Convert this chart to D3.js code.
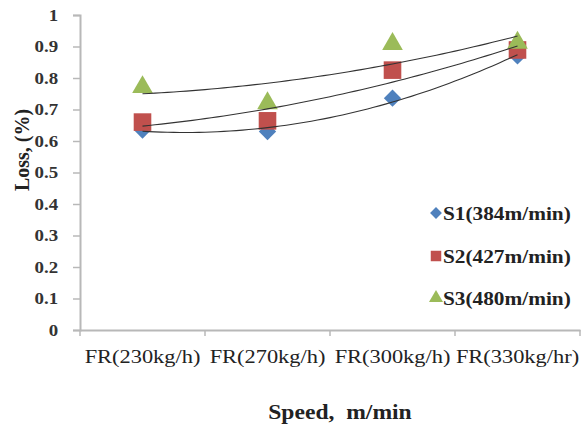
<!DOCTYPE html>
<html><head><meta charset="utf-8">
<script src="https://cdn.jsdelivr.net/npm/d3@7"></script>
<style>body{margin:0;background:#fff}svg{display:block}svg text{font-family:"Liberation Serif","Times New Roman",serif}</style>
</head><body>
<svg id="c" width="585" height="427"></svg>
<script>
const categories = ["FR(230kg/h)", "FR(270kg/h)", "FR(300kg/h)", "FR(330kg/hr)"];
const seriesNames = ["S1(384m/min)", "S2(427m/min)", "S3(480m/min)"];
const s1 = [0.635, 0.63, 0.736, 0.87];
const s2 = [0.66, 0.664, 0.825, 0.889];
const s3 = [0.771, 0.72, 0.908, 0.912];
const yTicks = [0, 0.1, 0.2, 0.3, 0.4, 0.5, 0.6, 0.7, 0.8, 0.9, 1];
const colors = ["#4F81BD", "#C0504D", "#9BBB59"];
const shapes = [d3.symbolSquare, d3.symbolSquare, d3.symbolTriangle];
const rotations = [45, 0, 0];
const allSeries = [s1, s2, s3];

const svg = d3.select("#c");
const font = '"Liberation Serif","Times New Roman",serif';
const SX = 1.18; // horizontal stretch of text as in the reference
const L = 80, R = 580, T = 15, B = 330;
const x = d3.scaleBand().domain(categories).range([L, R]);
const y = d3.scaleLinear().domain([0, 1]).range([B, T]);
const axisCol = "#b8b8b8";

// y axis
const ya = svg.append("g").attr("transform", `translate(${L},0)`)
  .call(d3.axisLeft(y).tickValues(yTicks).tickSize(7).tickPadding(11.5)
    .tickFormat(d => d === 0 || d === 1 ? d3.format("d")(d) : d3.format(".1f")(d)));
ya.attr("font-family", null).attr("font-size", null);
ya.select(".domain").attr("stroke", axisCol).attr("stroke-width", 2);
ya.selectAll(".tick line").attr("stroke", axisCol).attr("stroke-width", 1.5);
ya.selectAll("text").style("font-family", font).style("font-size", "16px").style("font-weight", "bold")
  .attr("fill", "#333").attr("transform", `scale(${SX},1)`);

// x axis
const xa = svg.append("g").attr("transform", `translate(0,${B})`)
  .call(d3.axisBottom(x).tickSize(0).tickPadding(20));
xa.attr("font-family", null).attr("font-size", null);
xa.select(".domain").attr("stroke", axisCol).attr("stroke-width", 2);
xa.selectAll("text").style("font-family", font).style("font-size", "19px").attr("fill", "#222")
  .attr("transform", `scale(${SX},1)`).attr("x", 0);
// category boundary ticks
const bounds = categories.map(c => x(c)).concat([R]);
svg.append("g").selectAll("line").data(bounds).join("line")
  .attr("x1", d => d).attr("x2", d => d).attr("y1", B).attr("y2", B + 6)
  .attr("stroke", axisCol).attr("stroke-width", 1.5);

// quadratic trendlines (least squares fit of each series)
function polyfit2(ys) {
  const xs = ys.map((_, i) => i + 1);
  let S = [0,0,0,0,0], Sy = [0,0,0];
  xs.forEach((xi, i) => { for (let k = 0; k < 5; k++) S[k] += Math.pow(xi, k); for (let k = 0; k < 3; k++) Sy[k] += ys[i] * Math.pow(xi, k); });
  const M = [[S[0],S[1],S[2],Sy[0]],[S[1],S[2],S[3],Sy[1]],[S[2],S[3],S[4],Sy[2]]];
  for (let i = 0; i < 3; i++) { for (let j = i+1; j < 3; j++) { const f = M[j][i]/M[i][i]; for (let k = i; k < 4; k++) M[j][k] -= f*M[i][k]; } }
  const c = [0,0,0];
  for (let i = 2; i >= 0; i--) { let s = M[i][3]; for (let k = i+1; k < 3; k++) s -= M[i][k]*c[k]; c[i] = s/M[i][i]; }
  return t => c[0] + c[1]*t + c[2]*t*t;
}
const bw = x.bandwidth();
const xc = i => x(categories[0]) + bw/2 + i * bw;
const line = d3.line().x(d => xc(d[0] - 1)).y(d => y(d[1]));

// markers
const sizes = [150, 310, 185];
allSeries.forEach((s, si) => {
  svg.append("g").selectAll("path").data(s).join("path")
    .attr("transform", (d, i) => `translate(${x(categories[i]) + bw/2},${y(d)}) rotate(${rotations[si]})`)
    .attr("d", d3.symbol().type(shapes[si]).size(sizes[si]))
    .attr("fill", colors[si]);
});
// trendlines on top
allSeries.forEach(s => {
  const f = polyfit2(s);
  const pts = d3.range(1, 4.001, 0.05).map(t => [t, f(t)]);
  svg.append("path").attr("d", line(pts)).attr("fill", "none").attr("stroke", "#333").attr("stroke-width", 1.1);
});

// legend
const legY = [213, 256, 298];
seriesNames.forEach((n, i) => {
  svg.append("path").attr("transform", `translate(436,${legY[i]}) rotate(${rotations[i]})`)
    .attr("d", d3.symbol().type(shapes[i]).size([70, 110, 85][i])).attr("fill", colors[i]);
  svg.append("g").attr("transform", `translate(443,${legY[i]}) scale(${SX * 0.95},1)`)
    .append("text").attr("dy", "0.35em")
    .style("font-family", font).style("font-size", "19px").style("font-weight", "bold").attr("fill", "#222").text(n);
});

// axis titles
svg.append("g").attr("transform", `translate(340,419) scale(${SX},1)`)
  .append("text").attr("text-anchor", "middle")
  .style("font-family", font).style("font-size", "20px").style("font-weight", "bold").attr("fill", "#222")
  .style("white-space", "pre").text("Speed,  m/min");
svg.append("text").attr("transform", "translate(29,150) rotate(-90) scale(1,1.1)").attr("text-anchor", "middle")
  .style("font-family", font).style("font-size", "20px").style("font-weight", "bold").attr("fill", "#222").text("Loss, (%)");
</script>
</body></html>
